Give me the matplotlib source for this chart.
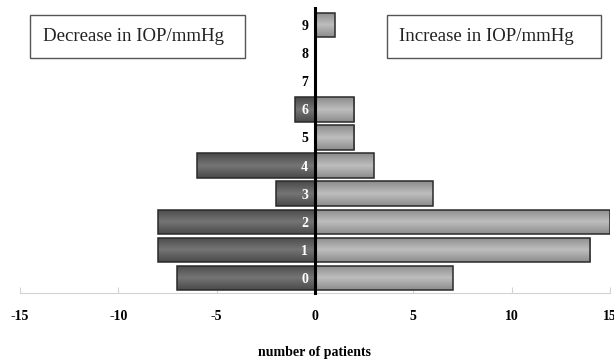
import numpy as np
import matplotlib
matplotlib.use("Agg")
import matplotlib.pyplot as plt
from matplotlib.colors import LinearSegmentedColormap
from matplotlib.patches import Rectangle

# IOP change in mmHg (rows) and number of patients on each side
iop_change = [0, 1, 2, 3, 4, 5, 6, 7, 8, 9]
decrease = [7, 8, 8, 2, 6, 0, 1, 0, 0, 0]
increase = [7, 14, 15, 6, 3, 2, 2, 0, 0, 1]
x_ticks = [-15, -10, -5, 0, 5, 10, 15]

serif = ["Liberation Serif", "DejaVu Serif"]


def shade_bars(ax, bars, cmap):
    """Fill each bar with a vertical gradient, darker at the edges."""
    grad = np.abs(np.linspace(-1, 1, 64))[:, None]
    for b in bars:
        if b.get_width() == 0:
            continue
        x0, y0 = b.get_x(), b.get_y()
        x1, y1 = x0 + b.get_width(), y0 + b.get_height()
        im = ax.imshow(grad, cmap=cmap, aspect="auto", origin="lower",
                       extent=(min(x0, x1), max(x0, x1), y0, y1), zorder=2)
        im.set_clip_path(b)


fig = plt.figure(figsize=(6.14, 3.59), dpi=100)
ax = fig.add_axes([20 / 614, 66 / 359, 590 / 614, 285 / 359])

left = ax.barh(iop_change, [-v for v in decrease], height=0.87,
               facecolor="none", edgecolor="#2a2a2a", linewidth=1.1, zorder=3)
right = ax.barh(iop_change, increase, height=0.87,
                facecolor="none", edgecolor="#2a2a2a", linewidth=1.1, zorder=3)

dark = LinearSegmentedColormap.from_list("dark", ["#747474", "#4a4a4a"])
light = LinearSegmentedColormap.from_list("light", ["#bdbdbd", "#8c8c8c"])
shade_bars(ax, left, dark)
shade_bars(ax, right, light)

ax.set_xlim(-15, 15)
ax.set_ylim(-0.53, 9.6)

# vertical axis drawn at zero, category labels beside it
ax.spines["left"].set_position(("data", 0))
ax.spines["left"].set_linewidth(2.2)
ax.spines["left"].set_color("black")
ax.spines["left"].set_zorder(5)
ax.spines["right"].set_visible(False)
ax.spines["top"].set_visible(False)
ax.spines["bottom"].set_color("#d2d2d2")
ax.yaxis.set_zorder(6)

ax.set_yticks(iop_change)
ax.set_yticklabels([str(v) for v in iop_change])
ax.tick_params(axis="y", length=0, pad=5)
for lab, d in zip(ax.get_yticklabels(), decrease):
    lab.set_fontfamily(serif)
    lab.set_fontweight("bold")
    lab.set_fontsize(10)
    lab.set_color("white" if d > 0 else "black")

ax.set_xticks(x_ticks)
ax.set_xticklabels([str(v) for v in x_ticks], fontfamily=serif,
                   fontweight="bold", fontsize=10)
ax.tick_params(axis="x", direction="in", length=4, color="#d2d2d2", pad=12)
ax.set_xlabel("number of patients", fontfamily=serif, fontweight="bold",
              fontsize=10, labelpad=17)

# legend-like boxes
for (x0, x1, tx, label) in [(30, 245, 43, "Decrease in IOP/mmHg"),
                            (387, 601, 399, "Increase in IOP/mmHg")]:
    fig.patches.append(Rectangle((x0 / 614, 1 - 58 / 359), (x1 - x0) / 614,
                                 43 / 359, transform=fig.transFigure,
                                 facecolor="white", edgecolor="#555555",
                                 linewidth=1))
    fig.text(tx / 614, 1 - 36.5 / 359, label, fontfamily=serif, fontsize=13.6,
             ha="left", va="center", color="#222222")

fig.savefig("out.png", dpi=100)
